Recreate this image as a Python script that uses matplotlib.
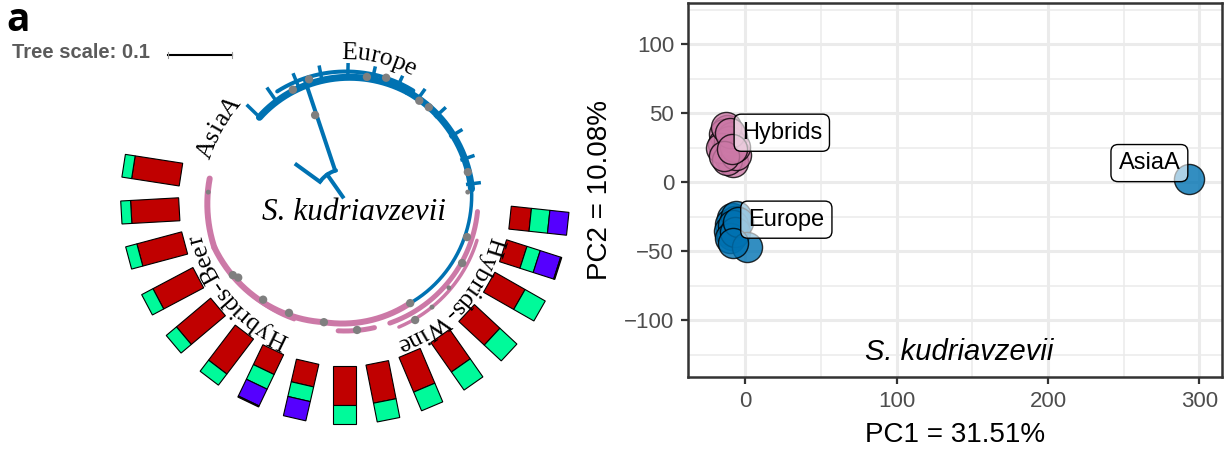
import numpy as np
import matplotlib.pyplot as plt
from matplotlib.patches import Polygon
from matplotlib.font_manager import FontProperties
from matplotlib.textpath import TextToPath

DPI = 100
PX_PER_PT = DPI / 72.0

BLUE = "#0072B2"
PINK = "#CC79A7"
NODE_GREY = "#7f7f7f"

# PCA coordinates
hybrids_pc1 = [-12, -14, -15, -13, -10, -8, -9, -11, -16, -12, -6, -7, -13, -10, -14, -9]
hybrids_pc2 = [38, 35, 28, 22, 18, 15, 33, 30, 25, 16, 20, 26, 40, 36, 19, 24]
europe_pc1 = [-9, -10, -8, -7, -11, -9, -6, -8, -10, -7, -5, 1, -8]
europe_pc2 = [-26, -30, -33, -28, -35, -38, -24, -31, -40, -36, -29, -47, -44]
asia_pc1 = [293.5]
asia_pc2 = [2.2]

group_names = ["Hybrids", "Europe", "AsiaA"]
group_label_x = [24, 27, 267]
group_label_y = [36, -27, 14]

# tree: leaf angles (degrees) and ancestry fractions of the hybrid strains
hybrid_leaf_angles = [171.2, 183.2, 195.0, 207.9, 220.1, 232.7, 244.4, 257.0,
                      270.0, 281.2, 292.9, 305.0, 317.1, 330.3, 342.2, 353.9]
ancestry_red = [0.83, 0.83, 0.80, 0.78, 0.77, 0.76, 0.38, 0.40,
                0.67, 0.67, 0.65, 0.62, 0.60, 0.60, 0.37, 0.35]
ancestry_green = [0.17, 0.17, 0.20, 0.22, 0.23, 0.24, 0.28, 0.26,
                  0.33, 0.33, 0.35, 0.38, 0.40, 0.40, 0.24, 0.32]
ancestry_purple = [0, 0, 0, 0, 0, 0, 0.32, 0.34,
                   0, 0, 0, 0, 0, 0, 0.37, 0.33]
ancestry_other = [0, 0, 0, 0, 0, 0, 0.02, 0,
                  0, 0, 0, 0, 0, 0, 0.02, 0]
ancestry_colors = ["#C00000", "#00FA9A", "#5500FF", PINK]

europe_leaf_angles = [135.9, 124.8, 112.3, 100.9, 88.7, 77.2, 65.1, 54.2, 42.6, 31.0, 19.0, 7.3]

# clade arcs: start angle, end angle, start radius, end radius, width (px)
blue_arcs = [
    (136, 60, 119, 125, 7),
    (122, 58, 128, 129, 4),
    (60, 5, 125, 127, 7),
    (5, -58, 127, 122, 3.5),
]
pink_arcs = [
    (171, 200, 137, 139, 6),
    (200, 260, 139, 124, 6),
    (260, 302, 124, 122, 6),
    (212, 247, 135, 130, 3.5),
    (267, 283, 131, 131, 5),
    (355, 290, 133, 131, 5),
    (343, 293, 138, 138, 3.5),
]

# internal branches near the root: angle, inner radius, outer radius
root_branches = [(108.5, 31, 125), (144, 31, 60), (125, 4, 31)]
root_arc = (107, 143, 31)

# support dots: angle, radius, size
node_angles = [115.3, 106.6, 79.9, 71.4, 53.2, 47.9, 12.8, 3.7, 109.4,
               176.7, 213.8, 216.0, 230.6, 243.6, 260.2, 275.3, 302.3,
               300.3, 309.1, 319.8, 331.7, 343.1]
node_radii = [122, 126, 125, 129, 124, 125, 126, 123, 90,
              137, 135, 132, 129, 126, 124, 130.5, 122,
              139, 138, 136, 133, 127.5]
node_sizes = [6, 6, 6, 6, 6, 6, 6, 3.5, 6,
              3.5, 6, 6, 6, 6, 6, 6, 6,
              6, 3.5, 3.5, 6, 6]

clade_names = ["Europe", "AsiaA", "Hybrids-Beer", "Hybrids-Wine"]
clade_mid_angles = [76.6, 150.2, 220.4, 318.0]
clade_radii = [141, 141, 147, 149]

# tree layout (tree axes is in pixel units)
CX, CY = 345, 254
BAR_R_IN, BAR_R_OUT, BAR_WIDTH = 166, 224, 23


def polar_xy(theta_deg, r):
    th = np.radians(theta_deg)
    return CX + r * np.cos(th), CY + r * np.sin(th)


def draw_arc(ax, a0, a1, r0, r1, width_px, color):
    th = np.linspace(a0, a1, 200)
    r = np.linspace(r0, r1, 200)
    x, y = polar_xy(th, r)
    ax.plot(x, y, color=color, lw=width_px / PX_PER_PT, solid_capstyle="round", zorder=2)


def curved_label(ax, text, theta_mid, radius, fontsize):
    prop = FontProperties(family="Liberation Serif", size=fontsize)
    t2p = TextToPath()

    def width(s):
        if not s:
            return 0.0
        w, _, _ = t2p.get_text_width_height_descent(s, prop, ismath=False)
        return w * PX_PER_PT

    total = width(text)
    theta_start = np.radians(theta_mid) + total / (2 * radius)
    for i, ch in enumerate(text):
        mid = (width(text[:i]) + width(text[:i + 1])) / 2
        th = theta_start - mid / radius
        x, y = CX + radius * np.cos(th), CY + radius * np.sin(th)
        ax.text(x, y, ch, fontproperties=prop, ha="center", va="baseline",
                rotation=np.degrees(th) - 90, rotation_mode="anchor", zorder=4)


def draw_bar(ax, theta_deg, fractions):
    th = np.radians(theta_deg)
    u = np.array([np.cos(th), np.sin(th)])
    v = np.array([-np.sin(th), np.cos(th)])
    c = np.array([CX, CY])
    length = BAR_R_OUT - BAR_R_IN
    r = BAR_R_IN
    for frac, color in zip(fractions, ancestry_colors):
        if frac <= 0:
            continue
        r2 = r + frac * length
        pts = [c + r * u - BAR_WIDTH / 2 * v, c + r2 * u - BAR_WIDTH / 2 * v,
               c + r2 * u + BAR_WIDTH / 2 * v, c + r * u + BAR_WIDTH / 2 * v]
        ax.add_patch(Polygon(pts, closed=True, facecolor=color, edgecolor="black", lw=0.8, zorder=3))
        r = r2


def plot_tree(fig):
    ax = fig.add_axes([0, 0, 575 / 1229, 1])
    ax.set_xlim(0, 575)
    ax.set_ylim(0, 454)
    ax.axis("off")

    for a0, a1, r0, r1, w in blue_arcs:
        draw_arc(ax, a0, a1, r0, r1, w, BLUE)
    for a0, a1, r0, r1, w in pink_arcs:
        draw_arc(ax, a0, a1, r0, r1, w, PINK)

    # europe leaf tips
    for a in europe_leaf_angles:
        x, y = polar_xy(np.array([a, a]), np.array([122, 137]))
        ax.plot(x, y, color=BLUE, lw=3.5 / PX_PER_PT, solid_capstyle="butt", zorder=2)

    # root
    for a, r0, r1 in root_branches:
        x, y = polar_xy(np.array([a, a]), np.array([r0, r1]))
        ax.plot(x, y, color=BLUE, lw=4 / PX_PER_PT, zorder=2)
    draw_arc(ax, root_arc[0], root_arc[1], root_arc[2], root_arc[2], 4, BLUE)

    nx, ny = polar_xy(np.array(node_angles), np.array(node_radii))
    ax.scatter(nx, ny, s=np.array(node_sizes) ** 2, color=NODE_GREY, zorder=3, linewidths=0)

    for i, a in enumerate(hybrid_leaf_angles):
        fr = [ancestry_red[i], ancestry_green[i], ancestry_purple[i], ancestry_other[i]]
        draw_bar(ax, a, fr)

    for name, a, r in zip(clade_names, clade_mid_angles, clade_radii):
        curved_label(ax, name, a, r, 18.5)

    ax.text(CX + 9, CY - 12, "S. kudriavzevii", family="Liberation Serif", style="italic",
            fontsize=22.5, ha="center", va="center", zorder=4)

    ax.text(6, 423, "a", family="Open Sans", weight="bold", fontsize=28, va="baseline")
    ax.text(12, 396, "Tree scale: 0.1", family="Liberation Sans", weight="bold",
            fontsize=14.5, color="#5b5b5b", va="baseline")
    ax.plot([168, 232], [399, 399], color="black", lw=1.5)
    for xe in (168, 232):
        ax.plot([xe, xe], [396, 402], color="#9a9a9a", lw=0.8)


def plot_pca(fig):
    ax = fig.add_axes([688 / 1229, 77 / 454, 534 / 1229, 374 / 454])
    ax.set_xlim(-38, 315)
    ax.set_ylim(-141, 130)

    ax.set_xticks([0, 100, 200, 300])
    ax.set_yticks([-100, -50, 0, 50, 100])
    ax.set_xticks([50, 150, 250], minor=True)
    ax.set_yticks([-125, -75, -25, 25, 75, 125], minor=True)
    ax.grid(which="major", color="#EBEBEB", lw=2.2, zorder=0)
    ax.grid(which="minor", color="#EBEBEB", lw=1.1, zorder=0)
    ax.set_axisbelow(True)
    ax.tick_params(which="minor", length=0)
    ax.tick_params(which="major", length=5, width=1.6, color="#333333",
                   labelsize=16, labelcolor="#4D4D4D", pad=5)
    for s in ax.spines.values():
        s.set_color("#333333")
        s.set_linewidth(1.8)
    for lab in ax.get_xticklabels() + ax.get_yticklabels():
        lab.set_family("Liberation Sans")

    ms = 470
    ax.scatter(hybrids_pc1, hybrids_pc2, s=ms, color=PINK, edgecolor="black", lw=1.0, alpha=0.8, zorder=3)
    ax.scatter(europe_pc1, europe_pc2, s=ms, color=BLUE, edgecolor="black", lw=1.0, alpha=0.8, zorder=3)
    ax.scatter(asia_pc1, asia_pc2, s=ms, color=BLUE, edgecolor="black", lw=1.0, alpha=0.8, zorder=3)

    for name, x, y in zip(group_names, group_label_x, group_label_y):
        ax.text(x, y, name, family="Liberation Sans", fontsize=17, ha="center", va="center", zorder=5,
                bbox=dict(boxstyle="round,pad=0.32,rounding_size=0.3", fc=(1, 1, 1, 0.6), ec="black", lw=1.0))

    ax.text(141, -123, "S. kudriavzevii", family="Liberation Sans", style="italic",
            fontsize=21, ha="center", va="center", zorder=5)

    ax.set_xlabel("PC1 = 31.51%", family="Liberation Sans", fontsize=20, labelpad=7)
    ax.set_ylabel("PC2 = 10.08%", family="Liberation Sans", fontsize=20, labelpad=8)


def main():
    fig = plt.figure(figsize=(12.29, 4.54), dpi=DPI)
    plot_tree(fig)
    plot_pca(fig)
    fig.savefig("out.png", dpi=DPI)
    plt.close(fig)


if __name__ == "__main__":
    main()
